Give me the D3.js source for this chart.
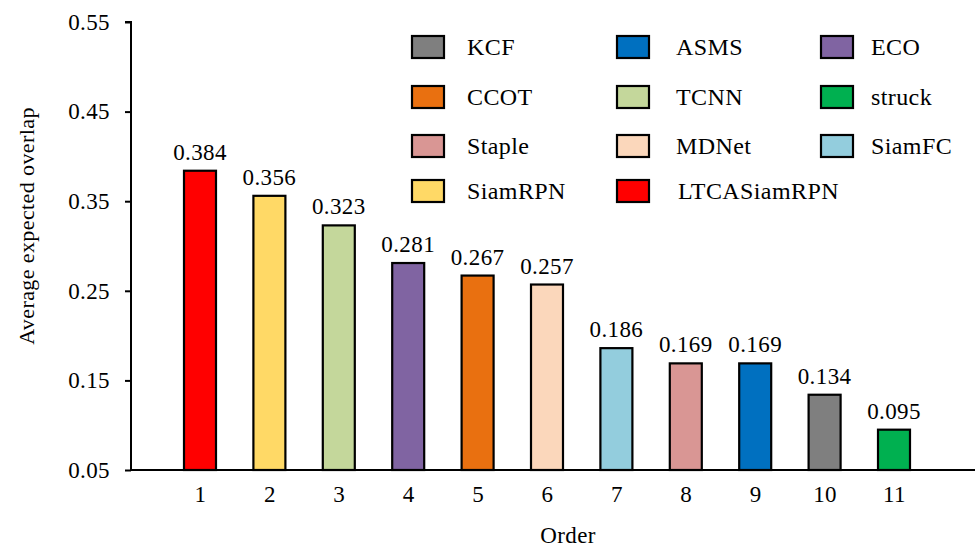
<!DOCTYPE html>
<html>
<head>
<meta charset="utf-8">
<script src="https://cdn.jsdelivr.net/npm/d3@7/dist/d3.min.js"></script>
<style>
  html, body { margin: 0; padding: 0; background: #fff; }
  svg { display: block; }
</style>
</head>
<body>
<svg id="chart" width="980" height="550"></svg>
<script>
// Ranking order on the x axis
const orders = [1, 2, 3, 4, 5, 6, 7, 8, 9, 10, 11];
// Tracker shown at each rank
const trackers = ["LTCASiamRPN", "SiamRPN", "TCNN", "ECO", "CCOT", "MDNet",
                  "SiamFC", "Staple", "ASMS", "KCF", "struck"];
// Average expected overlap per rank
const eaoValues = [0.384, 0.356, 0.323, 0.281, 0.267, 0.257,
                   0.186, 0.169, 0.169, 0.134, 0.095];
// Y axis ticks
const yTicks = [0.05, 0.15, 0.25, 0.35, 0.45, 0.55];
// Legend order (row by row, three columns)
const legendNames = ["KCF", "ASMS", "ECO", "CCOT", "TCNN", "struck",
                     "Staple", "MDNet", "SiamFC", "SiamRPN", "LTCASiamRPN"];
const trackerColors = {
  KCF: "#7f7f7f", ASMS: "#0070c0", ECO: "#8064a2",
  CCOT: "#e97010", TCNN: "#c4d79b", struck: "#00b050",
  Staple: "#d99694", MDNet: "#fbd7bb", SiamFC: "#93cddd",
  SiamRPN: "#ffd966", LTCASiamRPN: "#ff0000"
};

const FONT = "'Liberation Serif', serif";
const bars = orders.map((o, i) => ({ order: o, name: trackers[i], value: eaoValues[i] }));

const svg = d3.select("#chart").style("font-family", FONT);
const plotLeft = 131, plotRight = 975, plotTop = 22, plotBottom = 470;

const y = d3.scaleLinear().domain([0.05, 0.55]).range([plotBottom, plotTop]);
const x = d3.scalePoint().domain(orders).range([200, 894]);
const barW = 32;

function styleText(sel, size) {
  sel.style("font-family", FONT)
     .style("font-size", size + "px")
     .style("letter-spacing", "0.4px")
     .attr("fill", "#000");
}

// Bars
svg.append("g").selectAll("rect").data(bars).join("rect")
  .attr("x", d => x(d.order) - barW / 2)
  .attr("y", d => y(d.value))
  .attr("width", barW)
  .attr("height", d => plotBottom - y(d.value))
  .attr("fill", d => trackerColors[d.name])
  .attr("stroke", "#000")
  .attr("stroke-width", 2.2);

// Value labels above each bar
svg.append("g").selectAll("text").data(bars).join("text")
  .attr("x", d => x(d.order))
  .attr("y", d => y(d.value) - 11)
  .attr("text-anchor", "middle")
  .text(d => d.value.toFixed(3))
  .call(styleText, 23);

// Y axis
const yAxis = svg.append("g")
  .attr("transform", `translate(${plotLeft},0)`)
  .call(d3.axisLeft(y).tickValues(yTicks).tickFormat(d3.format(".2f")).tickSize(6).tickPadding(15));
yAxis.attr("font-family", null).style("font-family", FONT);
yAxis.select(".domain").attr("stroke", "#000").attr("stroke-width", 2)
  .attr("d", `M-6,${plotTop}H0V${plotBottom}`);
yAxis.selectAll(".tick line").attr("stroke", "#000").attr("stroke-width", 2);
yAxis.selectAll(".tick text").call(styleText, 23);

// X axis
const xAxis = svg.append("g")
  .attr("transform", `translate(0,${plotBottom})`)
  .call(d3.axisBottom(x).tickSize(0).tickPadding(16));
xAxis.attr("font-family", null).style("font-family", FONT);
xAxis.select(".domain").attr("stroke", "#000").attr("stroke-width", 2)
  .attr("d", `M${plotLeft},0H${plotRight}`);
xAxis.selectAll(".tick text").call(styleText, 23);

// Axis titles
svg.append("text")
  .attr("x", 568).attr("y", 543)
  .attr("text-anchor", "middle")
  .text("Order")
  .call(styleText, 23);
svg.append("text")
  .attr("transform", "translate(34,226) rotate(-90)")
  .attr("text-anchor", "middle")
  .text("Average expected overlap")
  .call(styleText, 22);

// Legend: three columns, four rows
const colX = [412, 617, 821];
const textDx = [55, 59, 50];
const rowY = [47, 97, 146, 191];
const legend = svg.append("g").selectAll("g").data(legendNames).join("g")
  .attr("transform", (d, i) => `translate(${colX[i % 3]},${rowY[Math.floor(i / 3)]})`);
legend.append("rect")
  .attr("x", 0).attr("y", -11).attr("width", 32).attr("height", 22)
  .attr("fill", d => trackerColors[d]).attr("stroke", "#000").attr("stroke-width", 2.2);
legend.append("text")
  .attr("x", (d, i) => textDx[i % 3] + (i === 10 ? 2 : 0)).attr("y", 8)
  .text(d => d)
  .call(styleText, 24);
</script>
</body>
</html>
